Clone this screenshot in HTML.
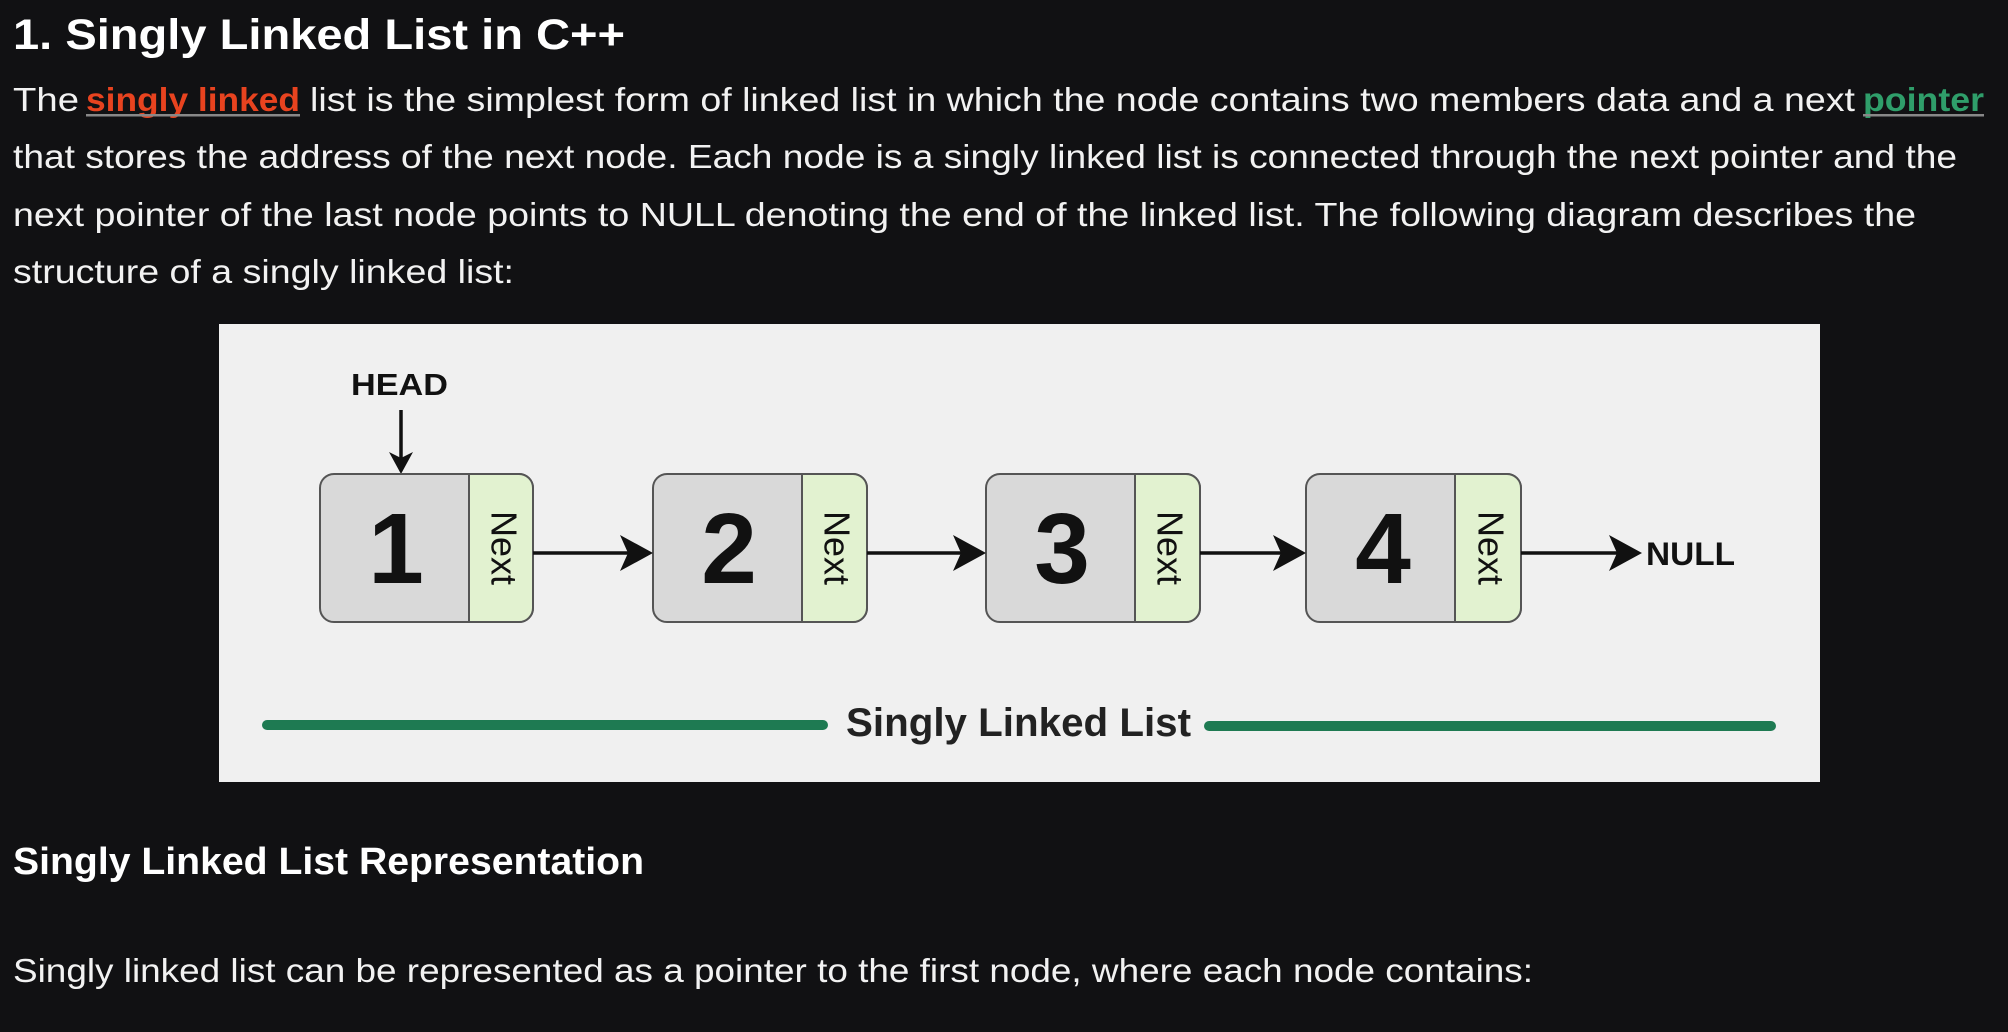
<!DOCTYPE html>
<html><head><meta charset="utf-8"><style>
html,body{margin:0;padding:0;background:#111113;}
svg{display:block}
</style></head><body>
<svg width="2008" height="1032" viewBox="0 0 2008 1032" xmlns="http://www.w3.org/2000/svg" font-family="Liberation Sans, sans-serif">
<rect width="2008" height="1032" fill="#111113"/>
<text x="13" y="49" font-size="43" font-weight="bold" fill="#fff" textLength="612" lengthAdjust="spacingAndGlyphs">1. Singly Linked List in C++</text>
<g font-size="33" fill="#f2f2f2">
<text x="13" y="111" textLength="66" lengthAdjust="spacingAndGlyphs">The</text>
<text x="86" y="111" fill="#e8431f" font-weight="bold" textLength="214" lengthAdjust="spacingAndGlyphs">singly linked</text>
<rect x="86" y="114" width="214" height="2.5" fill="#888"/>
<text x="310" y="111" textLength="1545" lengthAdjust="spacingAndGlyphs">list is the simplest form of linked list in which the node contains two members data and a next</text>
<text x="1863" y="111" fill="#2f9e6a" font-weight="bold" textLength="121" lengthAdjust="spacingAndGlyphs">pointer</text>
<rect x="1863" y="114" width="121" height="2.5" fill="#888"/>
<text x="13" y="168" textLength="1944" lengthAdjust="spacingAndGlyphs">that stores the address of the next node. Each node is a singly linked list is connected through the next pointer and the</text>
<text x="13" y="226" textLength="1903" lengthAdjust="spacingAndGlyphs">next pointer of the last node points to NULL denoting the end of the linked list. The following diagram describes the</text>
<text x="13" y="283" textLength="501" lengthAdjust="spacingAndGlyphs">structure of a singly linked list:</text>
</g>
<rect x="219" y="324" width="1601" height="458" fill="#f0f0f0"/>
<text x="351" y="395" font-size="31" font-weight="bold" fill="#111" textLength="97" lengthAdjust="spacingAndGlyphs">HEAD</text>
<line x1="401" y1="410" x2="401" y2="460" stroke="#111" stroke-width="3.5"/>
<polygon points="389,452 401,474 413,452 401,458" fill="#111"/>
<g font-weight="bold">
<rect x="320" y="474" width="213" height="148" rx="14" fill="#d9d9d9" stroke="#555" stroke-width="2"/>
<path d="M469,474 H519 A14,14 0 0 1 533,488 V608 A14,14 0 0 1 519,622 H469 Z" fill="#e2f2d0" stroke="#555" stroke-width="2"/>
<text x="396" y="583" font-size="100" text-anchor="middle" fill="#111">1</text>
<rect x="653" y="474" width="214" height="148" rx="14" fill="#d9d9d9" stroke="#555" stroke-width="2"/>
<path d="M802,474 H853 A14,14 0 0 1 867,488 V608 A14,14 0 0 1 853,622 H802 Z" fill="#e2f2d0" stroke="#555" stroke-width="2"/>
<text x="729" y="583" font-size="100" text-anchor="middle" fill="#111">2</text>
<rect x="986" y="474" width="214" height="148" rx="14" fill="#d9d9d9" stroke="#555" stroke-width="2"/>
<path d="M1135,474 H1186 A14,14 0 0 1 1200,488 V608 A14,14 0 0 1 1186,622 H1135 Z" fill="#e2f2d0" stroke="#555" stroke-width="2"/>
<text x="1062" y="583" font-size="100" text-anchor="middle" fill="#111">3</text>
<rect x="1306" y="474" width="215" height="148" rx="14" fill="#d9d9d9" stroke="#555" stroke-width="2"/>
<path d="M1455,474 H1507 A14,14 0 0 1 1521,488 V608 A14,14 0 0 1 1507,622 H1455 Z" fill="#e2f2d0" stroke="#555" stroke-width="2"/>
<text x="1383" y="583" font-size="100" text-anchor="middle" fill="#111">4</text>
</g>
<g font-size="36" fill="#111" text-anchor="middle">
<text transform="translate(501,548) rotate(90)" dominant-baseline="middle">Next</text>
<text transform="translate(834,548) rotate(90)" dominant-baseline="middle">Next</text>
<text transform="translate(1167,548) rotate(90)" dominant-baseline="middle">Next</text>
<text transform="translate(1488,548) rotate(90)" dominant-baseline="middle">Next</text>
</g>
<g stroke="#111" stroke-width="3.5">
<line x1="533" y1="553" x2="640" y2="553"/>
<line x1="867" y1="553" x2="973" y2="553"/>
<line x1="1200" y1="553" x2="1293" y2="553"/>
<line x1="1521" y1="553" x2="1630" y2="553"/>
</g>
<g fill="#111">
<polygon points="620,535 653,553 620,571 628,553"/>
<polygon points="953,535 986,553 953,571 961,553"/>
<polygon points="1273,535 1306,553 1273,571 1281,553"/>
<polygon points="1609,535 1642,553 1609,571 1617,553"/>
</g>
<text x="1646" y="565" font-size="32" font-weight="bold" fill="#111" textLength="89" lengthAdjust="spacingAndGlyphs">NULL</text>
<line x1="267" y1="725" x2="823" y2="725" stroke="#1e7a52" stroke-width="10" stroke-linecap="round"/>
<line x1="1209" y1="726" x2="1771" y2="726" stroke="#1e7a52" stroke-width="10" stroke-linecap="round"/>
<text x="846" y="736" font-size="40" font-weight="bold" fill="#222" textLength="345" lengthAdjust="spacingAndGlyphs">Singly Linked List</text>
<text x="13" y="874" font-size="38" font-weight="bold" fill="#fff" textLength="631" lengthAdjust="spacingAndGlyphs">Singly Linked List Representation</text>
<text x="13" y="982" font-size="33" fill="#f2f2f2" textLength="1520" lengthAdjust="spacingAndGlyphs">Singly linked list can be represented as a pointer to the first node, where each node contains:</text>
</svg>
</body></html>
